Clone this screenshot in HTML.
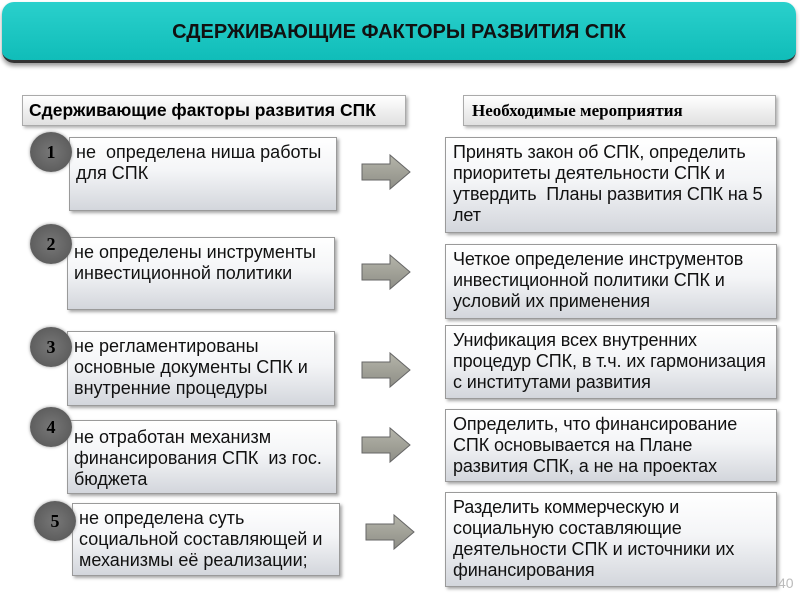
<!DOCTYPE html>
<html><head><meta charset="utf-8"><style>
body{margin:0;width:800px;height:600px;background:#fff;position:relative;overflow:hidden;font-family:"Liberation Sans",sans-serif;}
.hdr{position:absolute;left:2px;top:2px;width:794px;height:58px;border-radius:12px;background:linear-gradient(#2ad0cc,#10bdb9);border-bottom:3px solid #333;box-shadow:0 3px 4px rgba(0,0,0,.4);text-align:center;line-height:60px;font-weight:bold;font-size:20px;color:#111;}
.b{position:absolute;box-sizing:border-box;border:1px solid #9a9a9a;background:linear-gradient(#ffffff,#f4f5f7 45%,#d3d6dc);box-shadow:2px 2px 3px rgba(0,0,0,.35);font-size:18px;line-height:21px;color:#111;padding:4px 6px;white-space:nowrap;}
.r{font-size:18px;letter-spacing:-0.1px;}
.h{position:absolute;box-sizing:border-box;border:1px solid #aaa;background:linear-gradient(#fff,#e0e0e0);box-shadow:2px 2px 3px rgba(0,0,0,.3);font-weight:bold;white-space:nowrap;}
.c{position:absolute;width:42px;height:40px;border-radius:50%;background:radial-gradient(#777,#5e5e5e 70%,#8a8a8a);box-shadow:0 0 3px #999;text-align:center;line-height:40px;font-family:"Liberation Serif",serif;font-weight:bold;font-size:18px;color:#000;}
svg.a{position:absolute;}
</style></head><body>
<div class="hdr">СДЕРЖИВАЮЩИЕ ФАКТОРЫ РАЗВИТИЯ СПК</div>
<div class="h" style="left:22px;top:95px;width:384px;height:31px;font-size:17.5px;line-height:29px;padding-left:6px">Сдерживающие факторы развития СПК</div>
<div class="h" style="left:463px;top:95px;width:313px;height:31px;font-family:'Liberation Serif',serif;font-size:17px;line-height:29px;padding-left:8px">Необходимые мероприятия</div>

<div class="b" style="left:69px;top:137px;width:268px;height:74px;padding-left:6px">не &nbsp;определена ниша работы<br>для СПК</div>
<div class="b" style="left:67px;top:237px;width:268px;height:73px">не определены инструменты<br>инвестиционной политики</div>
<div class="b" style="left:67px;top:331px;width:268px;height:75px">не регламентированы<br>основные документы СПК и<br>внутренние процедуры</div>
<div class="b" style="left:67px;top:420px;width:270px;height:74px;padding-top:6px">не отработан механизм<br>финансирования СПК &nbsp;из гос.<br>бюджета</div>
<div class="b" style="left:72px;top:503px;width:268px;height:73px">не определена суть<br>социальной составляющей и<br>механизмы её реализации;</div>

<div class="c" style="left:30px;top:132px">1</div>
<div class="c" style="left:30px;top:224px">2</div>
<div class="c" style="left:30px;top:327px">3</div>
<div class="c" style="left:30px;top:407px">4</div>
<div class="c" style="left:34px;top:501px">5</div>

<svg class="a" width="800" height="600" style="left:0;top:0">
<defs><linearGradient id="g" x1="0" y1="0" x2="0" y2="1"><stop offset="0" stop-color="#b5b5aa"/><stop offset="1" stop-color="#8e8e86"/></linearGradient></defs>
<g fill="url(#g)" stroke="#666" stroke-width="1">
<polygon points="362,164 390,164 390,155 410,172 390,189 390,180 362,180"/>
<polygon points="362,264 390,264 390,255 410,272 390,289 390,280 362,280"/>
<polygon points="362,362 390,362 390,353 410,370 390,387 390,378 362,378"/>
<polygon points="362,437 390,437 390,428 410,445 390,462 390,453 362,453"/>
<polygon points="366,524 394,524 394,515 414,532 394,549 394,540 366,540"/>
</g></svg>

<div class="b r" style="left:445px;top:137px;width:332px;height:96px;padding-left:7px">Принять закон об СПК, определить<br>приоритеты деятельности СПК и<br>утвердить &nbsp;Планы развития СПК на 5<br>лет</div>
<div class="b r" style="left:445px;top:244px;width:332px;height:75px;padding-left:7px">Четкое определение инструментов<br>инвестиционной политики СПК и<br>условий их применения</div>
<div class="b r" style="left:445px;top:325px;width:332px;height:74px;padding-left:7px">Унификация всех внутренних<br>процедур СПК, в т.ч. их гармонизация<br>с институтами развития</div>
<div class="b r" style="left:445px;top:409px;width:332px;height:73px;padding-left:7px">Определить, что финансирование<br>СПК основывается на Плане<br>развития СПК, а не на проектах</div>
<div class="b r" style="left:445px;top:492px;width:332px;height:95px;padding-left:7px">Разделить коммерческую и<br>социальную составляющие<br>деятельности СПК и источники их<br>финансирования</div>
<div style="position:absolute;left:778px;top:575px;font-size:14px;color:#bbb">40</div>
</body></html>
